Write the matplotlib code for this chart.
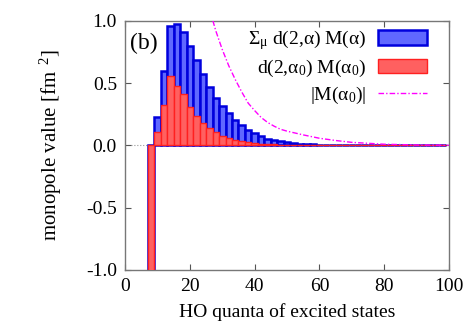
import numpy as np
import matplotlib
matplotlib.use("Agg")
import matplotlib.pyplot as plt

plt.rcParams['font.family'] = ['Liberation Serif', 'DejaVu Serif']
plt.rcParams['mathtext.fontset'] = 'custom'
plt.rcParams['mathtext.rm'] = 'Liberation Serif'
plt.rcParams['mathtext.it'] = 'Liberation Serif:italic'

# HO quanta (bar centres) and bar heights
quanta = np.arange(8, 100, 2)
total = [-1.3, 0.23, 0.595, 0.96, 0.975, 0.91, 0.80, 0.685, 0.575, 0.47,
         0.385, 0.315, 0.258, 0.207, 0.162, 0.125, 0.098, 0.075, 0.055, 0.042,
         0.032, 0.025, 0.019, 0.014, 0.011, 0.009, 0.007, 0.006, 0.005, 0.004,
         0.0035, 0.003, 0.0025, 0.002, 0.002, 0.0015, 0.0015, 0.001, 0.001, 0.001,
         0.001, 0.0008, 0.0008, 0.0006, 0.0006, 0.0005]
diag = [-1.3, 0.112, 0.325, 0.555, 0.48, 0.41, 0.31, 0.24, 0.18, 0.14,
        0.108, 0.08, 0.062, 0.047, 0.035, 0.026, 0.02, 0.015, 0.011, 0.009,
        0.007, 0.005, 0.004, 0.003, 0.0025, 0.002, 0.0015, 0.0012, 0.001, 0.001,
        0.0008, 0.0008, 0.0006, 0.0006, 0.0005, 0.0005, 0.0004, 0.0004, 0.0003, 0.0003,
        0.0003, 0.0002, 0.0002, 0.0002, 0.0002, 0.0001]

# |M(alpha_0)| curve
m_x = [24, 26, 28, 30, 32, 34, 36, 38, 40, 42, 44, 46, 48, 50, 55, 60, 65, 70, 80, 90, 100]
m_y = [1.35, 1.1, 0.92, 0.77, 0.64, 0.53, 0.43, 0.34, 0.28, 0.225, 0.185, 0.155,
       0.13, 0.115, 0.085, 0.058, 0.04, 0.025, 0.01, 0.004, 0.002]

fig = plt.figure(figsize=(4.69, 3.28), dpi=100)
ax = fig.add_axes([0.267, 0.177, 0.69, 0.759])

ax.axhline(0, color='#999999', lw=0.8, ls=':', zorder=1)
b1 = ax.bar(quanta, total, width=2, color='#6068ff', edgecolor='#0000dd', lw=1.8,
            zorder=2)
b2 = ax.bar(quanta, diag, width=2, color='#ff6060', edgecolor='#ff2020', lw=1.0,
            zorder=3)
ln, = ax.plot(m_x, m_y, color='#ff00ff', lw=1.0, ls=(0, (4, 1.5, 1, 1.5)), zorder=4)

ax.set_xlim(0, 100)
ax.set_ylim(-1, 1)
ax.set_xticks(np.arange(0, 101, 20))
ax.set_yticks([-1.0, -0.5, 0.0, 0.5, 1.0])
ax.set_yticklabels(['-1.0', '-0.5', '0.0', '0.5', '1.0'])
ax.tick_params(direction='in', top=True, right=True, labelsize=14, length=4,
               color='#555555', pad=6)
for s in ax.spines.values():
    s.set_color('#777777')
    s.set_linewidth(1.0)

ax.set_xlabel('HO quanta of excited states', fontsize=14, labelpad=6)
ax.set_ylabel(r'monopole value [fm$^{\ \ 2}$]', fontsize=15, labelpad=16)
ax.text(1.5, 0.82, '(b)', fontsize=17, ha='left', va='center')

ax.legend([b1, b2, ln],
          [r'$\mathrm{\Sigma_{\mu}}$ d(2,α) M(α)', 'd(2,α$_0$) M(α$_0$)', '|M(α$_0$)|'],
          loc='upper right', bbox_to_anchor=(0.932, 0.972), frameon=False,
          fontsize=14, markerfirst=False, borderpad=0, borderaxespad=0,
          handlelength=2.5, handleheight=0.8, handletextpad=0.6,
          labelspacing=0.3)

fig.savefig('out.png', dpi=100)
